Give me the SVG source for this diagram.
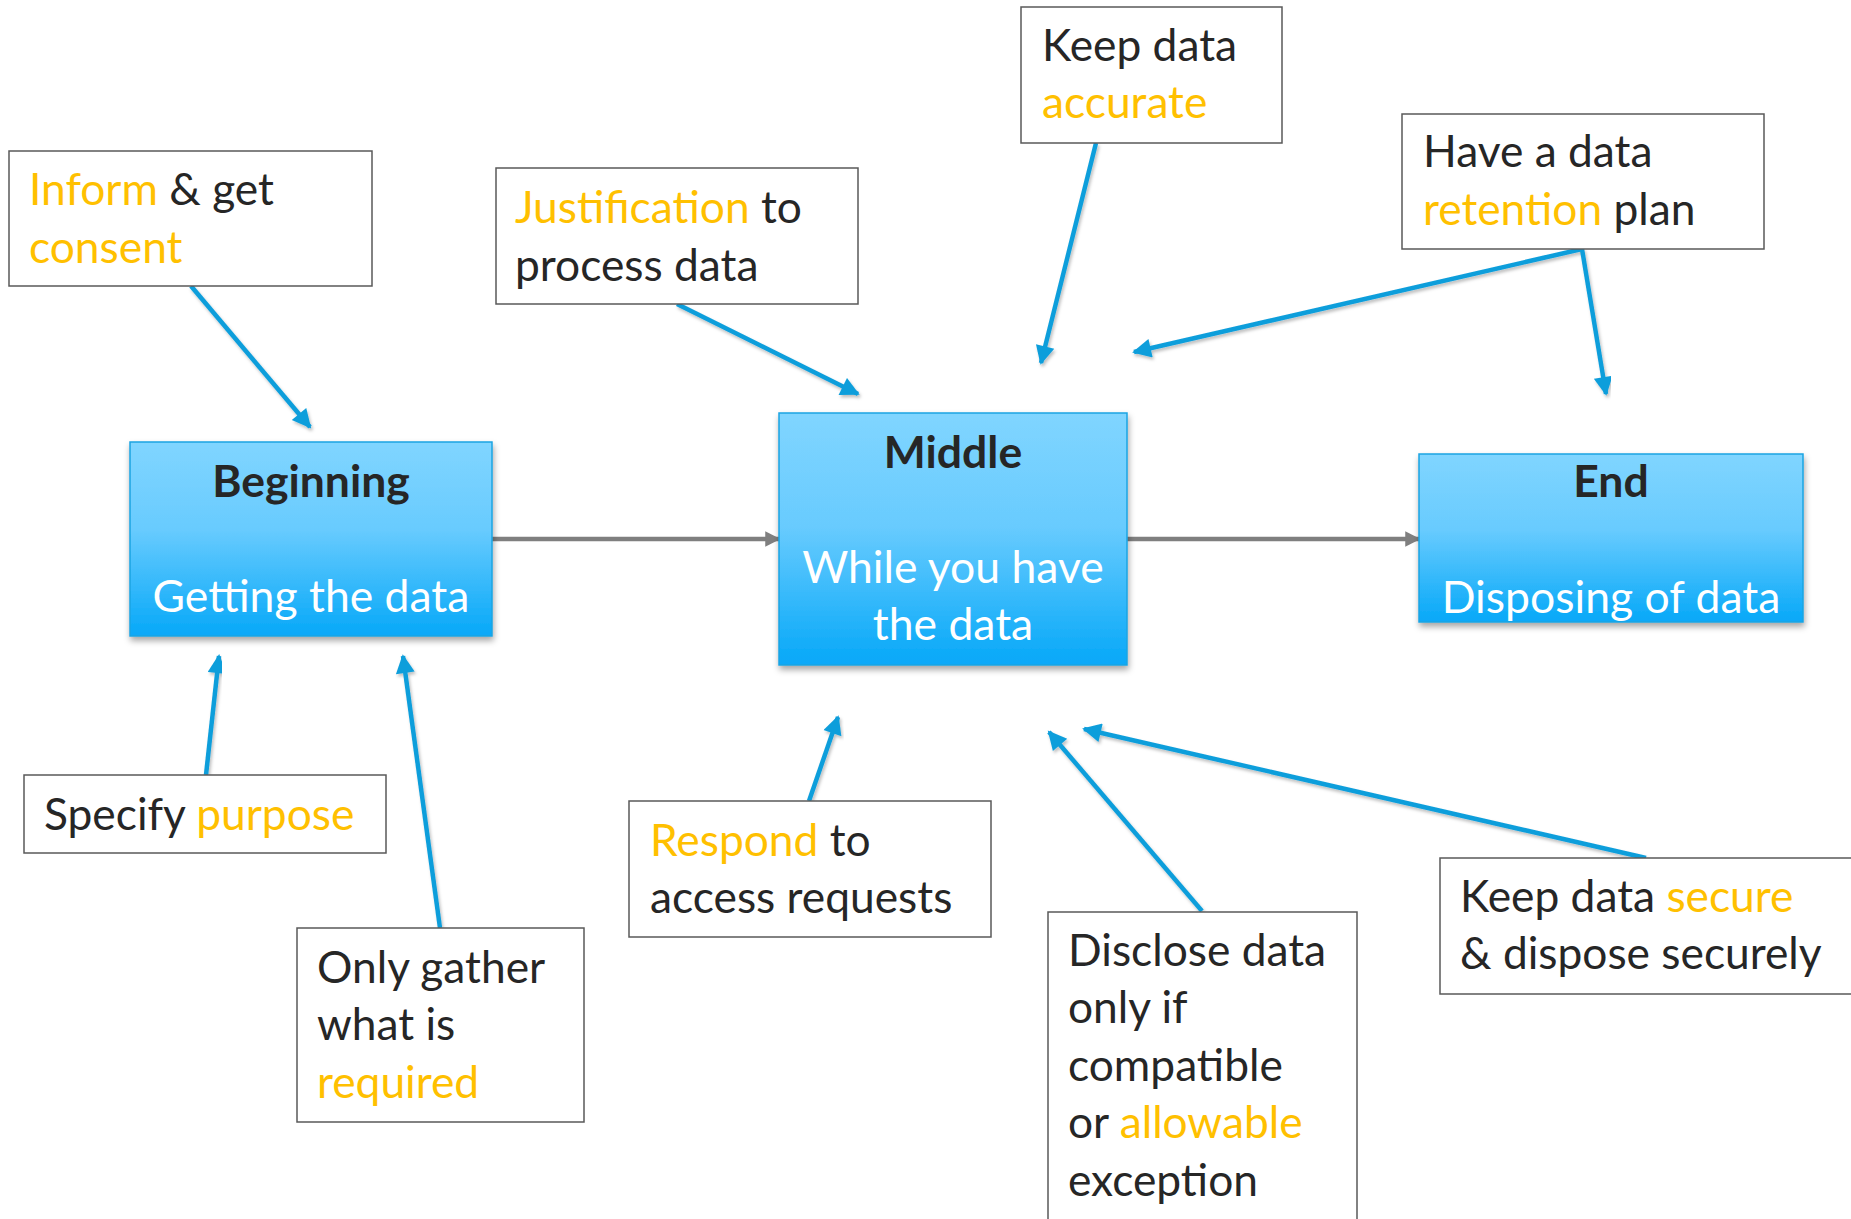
<svg xmlns="http://www.w3.org/2000/svg" width="1851" height="1219" viewBox="0 0 1851 1219">
<defs>
<linearGradient id="blueGrad" x1="0" y1="0" x2="0" y2="1">
<stop offset="0" stop-color="#80D5FF"/>
<stop offset="0.45" stop-color="#68CBFE"/>
<stop offset="1" stop-color="#06A8F8"/>
</linearGradient>
<filter id="shadow" x="-10%" y="-10%" width="125%" height="130%">
<feDropShadow dx="1" dy="4" stdDeviation="3" flood-color="#000" flood-opacity="0.35"/>
</filter>
<filter id="lineShadow" x="-20%" y="-20%" width="140%" height="140%">
<feDropShadow dx="1.5" dy="2.5" stdDeviation="1.5" flood-color="#000" flood-opacity="0.25"/>
</filter>
<marker id="blueHead" viewBox="0 0 10 10" refX="9" refY="5" markerWidth="5" markerHeight="4.2" orient="auto" markerUnits="strokeWidth">
<path d="M0,0 L10,5 L0,10 z" fill="#0F9EDB"/>
</marker>
<marker id="grayHead" viewBox="0 0 10 10" refX="9" refY="5" markerWidth="3.8" markerHeight="3.4" orient="auto" markerUnits="strokeWidth">
<path d="M0,0 L10,5 L0,10 z" fill="#7F7F7F"/>
</marker>
</defs>
<style>
.txt{font-family:Lato,"Open Sans","Liberation Sans",sans-serif;font-size:44.3px;fill:#262626}
.hl{fill:#FFC000}
.title{font-family:Lato,"Open Sans","Liberation Sans",sans-serif;font-size:44.5px;font-weight:bold;fill:#262626;text-anchor:middle}
.sub{font-family:Lato,"Open Sans","Liberation Sans",sans-serif;font-size:44.5px;fill:#FFFFFF;text-anchor:middle}
.note{fill:#FFFFFF;stroke:#595959;stroke-width:1.5}
.stage{fill:url(#blueGrad);stroke:#1BA4E2;stroke-width:1.5;filter:url(#shadow)}
.blue{stroke:#0F9EDB;stroke-width:4.5;fill:none;marker-end:url(#blueHead);filter:url(#lineShadow)}
.gray{stroke:#7F7F7F;stroke-width:4.5;fill:none;marker-end:url(#grayHead)}
</style>
<rect width="1851" height="1219" fill="#FFFFFF"/>

<g id="connectors">
<line class="gray" x1="492" y1="539" x2="779" y2="539"/>
<line class="gray" x1="1127" y1="539" x2="1419" y2="539"/>
<line class="blue" x1="191" y1="286" x2="310" y2="427"/>
<line class="blue" x1="677" y1="304" x2="858" y2="394"/>
<line class="blue" x1="1096" y1="143" x2="1041" y2="363"/>
<line class="blue" x1="1582" y1="249" x2="1134" y2="352"/>
<line class="blue" x1="1582" y1="249" x2="1606" y2="394"/>
<line class="blue" x1="206" y1="775" x2="219" y2="656"/>
<line class="blue" x1="440" y1="928" x2="403" y2="656"/>
<line class="blue" x1="809" y1="801" x2="838" y2="717"/>
<line class="blue" x1="1202" y1="911" x2="1049" y2="732"/>
<line class="blue" x1="1646" y1="858" x2="1084" y2="729"/>
<line class="blue" x1="1646" y1="858" x2="1646" y2="716"/>
</g>

<g id="beginning">
<rect class="stage" x="130" y="442" width="362" height="194"/>
<text class="title" x="311" y="497">Beginning</text>
<text class="sub" x="311" y="612">Getting the data</text>
</g>
<g id="middle">
<rect class="stage" x="779" y="413" width="348" height="252"/>
<text class="title" x="953" y="468">Middle</text>
<text class="sub" x="953" y="583">While you have</text>
<text class="sub" x="953" y="640">the data</text>
</g>
<g id="end">
<rect class="stage" x="1419" y="454" width="384" height="168"/>
<text class="title" x="1611" y="497">End</text>
<text class="sub" x="1611" y="613">Disposing of data</text>
</g>

<g id="inform">
<rect class="note" x="9" y="151" width="363" height="135"/>
<text class="txt" x="29" y="205"><tspan class="hl">Inform</tspan> &amp; get</text>
<text class="txt hl" x="29" y="263">consent</text>
</g>
<g id="justification">
<rect class="note" x="496" y="168" width="362" height="136"/>
<text class="txt" x="515" y="223"><tspan class="hl">Justification</tspan> to</text>
<text class="txt" x="515" y="281">process data</text>
</g>
<g id="accurate">
<rect class="note" x="1021" y="7" width="261" height="136"/>
<text class="txt" x="1042" y="61">Keep data</text>
<text class="txt hl" x="1042" y="118">accurate</text>
</g>
<g id="retention">
<rect class="note" x="1402" y="114" width="362" height="135"/>
<text class="txt" x="1423" y="167">Have a data</text>
<text class="txt" x="1423" y="225"><tspan class="hl">retention</tspan> plan</text>
</g>
<g id="purpose">
<rect class="note" x="24" y="775" width="362" height="78"/>
<text class="txt" x="44" y="830">Specify <tspan class="hl">purpose</tspan></text>
</g>
<g id="required">
<rect class="note" x="297" y="928" width="287" height="194"/>
<text class="txt" x="317" y="983">Only gather</text>
<text class="txt" x="317" y="1040">what is</text>
<text class="txt hl" x="317" y="1098">required</text>
</g>
<g id="respond">
<rect class="note" x="629" y="801" width="362" height="136"/>
<text class="txt" x="650" y="856"><tspan class="hl">Respond</tspan> to</text>
<text class="txt" x="650" y="913">access requests</text>
</g>
<g id="disclose">
<rect class="note" x="1048" y="912" width="309" height="320"/>
<text class="txt" x="1068" y="966">Disclose data</text>
<text class="txt" x="1068" y="1023">only if</text>
<text class="txt" x="1068" y="1081">compatible</text>
<text class="txt" x="1068" y="1138"><tspan>or </tspan><tspan class="hl">allowable</tspan></text>
<text class="txt" x="1068" y="1196">exception</text>
</g>
<g id="secure">
<rect class="note" x="1440" y="858" width="430" height="136"/>
<text class="txt" x="1460" y="912">Keep data <tspan class="hl">secure</tspan></text>
<text class="txt" x="1460" y="969">&amp; dispose securely</text>
</g>
</svg>
